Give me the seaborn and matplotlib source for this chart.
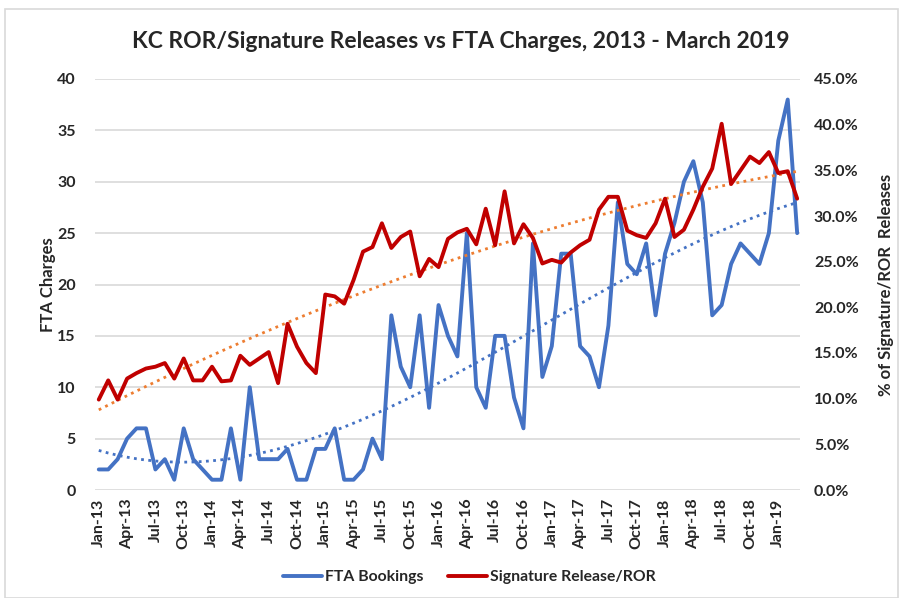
import numpy as np
import pandas as pd
import matplotlib
matplotlib.use('Agg')
import matplotlib.pyplot as plt
from matplotlib.lines import Line2D
from matplotlib.patches import Rectangle
import seaborn as sns

# Monthly data, Jan-13 .. Mar-19
months = pd.date_range('2013-01-01', periods=75, freq='MS').strftime('%b-%y').tolist()

fta_bookings = [2, 2, 3, 5, 6, 6, 2, 3, 1, 6, 3, 2, 1, 1, 6, 1, 10, 3, 3,
                3, 4, 1, 1, 4, 4, 6, 1, 1, 2, 5, 3, 17, 12, 10, 17, 8, 18,
                15, 13, 25, 10, 8, 15, 15, 9, 6, 24, 11, 14, 23, 23, 14, 13, 10, 16, 28,
                22, 21, 24, 17, 23, 26, 30, 32, 28, 17, 18, 22, 24, 23, 22, 25, 34, 38, 25]

sig_ror_pct = [9.9, 12.0, 9.9, 12.2, 12.8, 13.3, 13.5, 13.9, 12.2, 14.4, 12.0, 12.0, 13.5,
               11.9, 12.0, 14.7, 13.7, 14.4, 15.1,
               11.7, 18.2, 15.7, 13.9, 12.8, 21.4, 21.2, 20.4, 23.0, 26.1, 26.6, 29.2,
               26.5, 27.7, 28.3, 23.4, 25.3, 24.4,
               27.5, 28.2, 28.6, 26.9, 30.8, 26.8, 32.7, 27.0, 29.1, 27.6, 24.8, 25.2,
               24.9, 26.0, 26.8, 27.4, 30.7, 32.1, 32.1,
               28.4, 27.9, 27.6, 29.2, 31.9, 27.7, 28.5, 30.7, 33.2, 35.2, 40.1, 33.5,
               35.0, 36.5, 35.8, 37.0, 34.7, 34.9, 31.9]

BLUE = '#4472C4'
RED = '#C00000'
ORANGE = '#ED7D31'
TEXT = '#262626'

df = pd.DataFrame({'month': months, 'idx': np.arange(len(months)),
                   'fta': fta_bookings, 'ror': sig_ror_pct})

# Excel-style polynomial trendlines
df['fta_trend'] = np.polyval(np.polyfit(df['idx'], df['fta'], 3), df['idx'])
df['ror_trend'] = np.polyval(np.polyfit(df['idx'], df['ror'], 2), df['idx'])

sns.set_theme(style='white')
plt.rcParams['font.family'] = ['Lato', 'DejaVu Sans']

fig = plt.figure(figsize=(8.99, 5.98), dpi=100)
ax = fig.add_axes([95 / 899, 1 - 490 / 598, 705 / 899, 411 / 598])
ax2 = ax.twinx()

sns.lineplot(data=df, x='idx', y='fta', ax=ax, color=BLUE, lw=2.8, zorder=3)
sns.lineplot(data=df, x='idx', y='fta_trend', ax=ax, color=BLUE, lw=2,
             linestyle=(0, (1, 1.6)), zorder=4)
sns.lineplot(data=df, x='idx', y='ror_trend', ax=ax2, color=ORANGE, lw=2,
             linestyle=(0, (1, 1.6)), zorder=2)
sns.lineplot(data=df, x='idx', y='ror', ax=ax2, color=RED, lw=2.8, zorder=3)

ax.set_xlim(-0.4, 74.3)
ax.set_ylim(0, 40)
ax.set_yticks(range(0, 41, 5))
ax2.set_ylim(0, 45)
ax2.set_yticks(np.arange(0, 46, 5))
ax2.set_yticklabels([f'{v:.1f}%' for v in np.arange(0, 46, 5)])

ax.set_xticks(df['idx'][::3])
ax.set_xticklabels(df['month'][::3], rotation=90)

ax.yaxis.grid(True, color='#D9D9D9', lw=1.2)
ax.set_axisbelow(True)
for a in (ax, ax2):
    for s in a.spines.values():
        s.set_visible(False)
    a.tick_params(length=0, labelsize=11.5, colors=TEXT)
    for lab in a.get_xticklabels() + a.get_yticklabels():
        lab.set_fontweight('bold')
ax.tick_params(axis='x', pad=6)
ax.tick_params(axis='y', pad=14)
ax2.tick_params(axis='y', pad=10)

ax.set_xlabel('')
ax.set_ylabel('FTA Charges', fontsize=12, color=TEXT, fontweight='bold')
ax.yaxis.set_label_coords(-0.056, 0.5)
ax2.set_ylabel('% of Signature/ROR  Releases', fontsize=12, color=TEXT, fontweight='bold')
ax2.yaxis.set_label_coords(1.11, 0.5)

fig.text(0.512, 1 - 42 / 598, 'KC ROR/Signature Releases vs FTA Charges, 2013 - March 2019',
         ha='center', va='center', fontsize=16.5, fontweight='bold', color=TEXT)

handles = [Line2D([], [], color=BLUE, lw=2.8), Line2D([], [], color=RED, lw=2.8)]
fig.legend(handles, ['FTA Bookings', 'Signature Release/ROR'], loc='center',
           bbox_to_anchor=(0.522, 1 - 577 / 598), ncol=2, frameon=False,
           handlelength=2.5, handletextpad=0.15, columnspacing=1.6,
           prop={'size': 11.3, 'weight': 'bold'}, labelcolor=TEXT)

fig.patches.append(Rectangle((5 / 899, 0), 893 / 899, 1 - 9 / 598, transform=fig.transFigure,
                             fill=False, edgecolor='#D9D9D9', lw=1.2))

fig.savefig('out.png', dpi=100)
